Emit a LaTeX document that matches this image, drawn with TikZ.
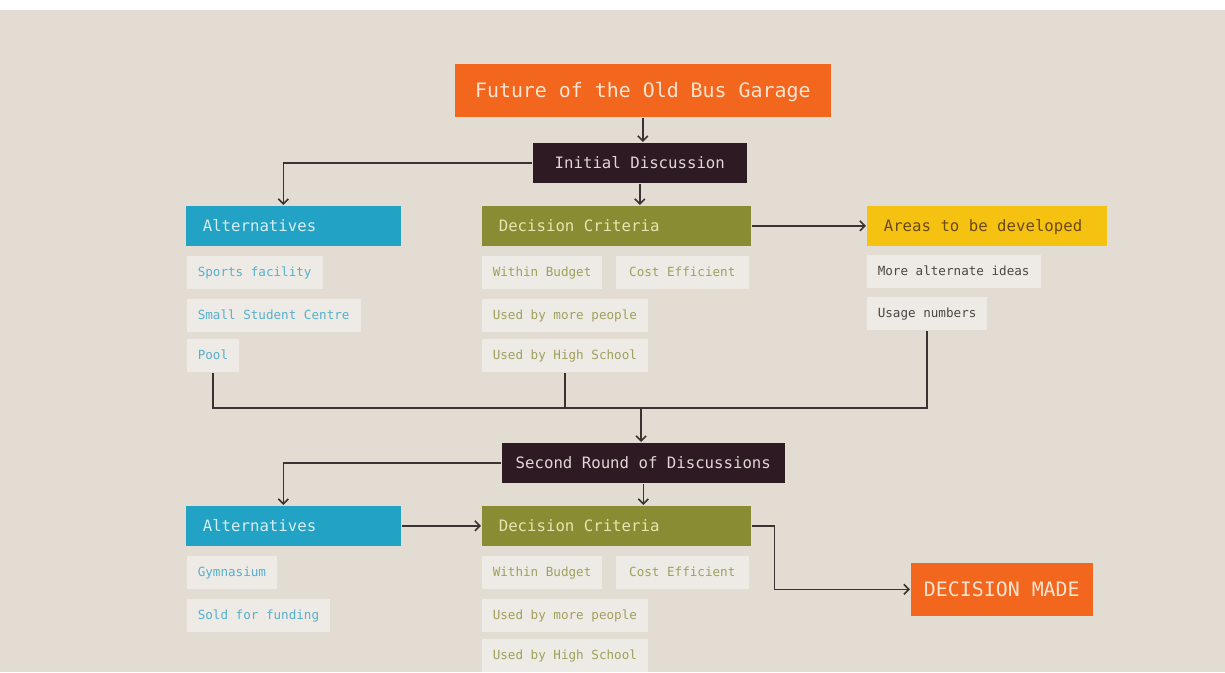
\documentclass[tikz,border=0pt]{standalone}
\usepackage{fontspec}
\setmonofont{DejaVu Sans Mono}
\usetikzlibrary{arrows.meta}

\definecolor{paper}{HTML}{E2DCD2}
\definecolor{orangec}{HTML}{F2661E}
\definecolor{orangetxt}{HTML}{FBE3CF}
\definecolor{darkc}{HTML}{2D1A22}
\definecolor{darktxt}{HTML}{E2D6D6}
\definecolor{bluec}{HTML}{22A2C5}
\definecolor{bluehd}{HTML}{D6EEF3}
\definecolor{bluetxt}{HTML}{55B0CC}
\definecolor{olivec}{HTML}{8A8C33}
\definecolor{olivehd}{HTML}{E6E4B0}
\definecolor{olivetxt}{HTML}{A19F5C}
\definecolor{yellowc}{HTML}{F5C212}
\definecolor{yellowtxt}{HTML}{6B4A12}
\definecolor{greytxt}{HTML}{4D4545}
\definecolor{itembg}{HTML}{EEEAE6}
\definecolor{linec}{HTML}{3B3333}

\begin{document}
\begin{tikzpicture}[x=1pt,y=-1pt,->,>={Straight Barb[length=5pt,width=10pt]},
  line width=1.6pt,
  head/.style={anchor=north west,inner xsep=17pt,minimum height=40pt,align=flush left,
    font=\ttfamily\fontsize{15.7}{18}\selectfont,text height=12.5pt,text depth=2pt},
  mainbox/.style={anchor=north west,inner sep=0pt,align=center,
    font=\ttfamily\fontsize{15.7}{18}\selectfont,text height=12.5pt,text depth=2pt},
  item/.style={anchor=north west,fill=itembg,inner xsep=11pt,minimum height=33pt,
    font=\ttfamily\fontsize{12.6}{15}\selectfont,text height=9.5pt,text depth=2pt},
  conn/.style={draw=linec}]

% background
\useasboundingbox (0,0) rectangle (1225,672);
\fill[white] (0,0) rectangle (1225,672);
\fill[paper] (0,10) rectangle (1225,672);

% first round
\node[mainbox,fill=orangec,text=orangetxt,minimum width=376pt,minimum height=53pt,
  font=\ttfamily\fontsize{19.9}{22}\selectfont,text height=16pt,text depth=2pt] (garage) at (454,63) {Future of the Old Bus Garage};
\node[mainbox,fill=darkc,text=darktxt,minimum width=214pt,minimum height=40pt] (initial) at (532,142) {Initial Discussion};

\node[head,fill=bluec,text=bluehd,text width=181pt] (altA) at (185,205) {Alternatives};
\node[head,fill=olivec,text=olivehd,text width=235pt] (critA) at (481,205) {Decision Criteria};
\node[head,fill=yellowc,text=yellowtxt,text width=206pt] (areas) at (866,205) {Areas to be developed};

\node[item,text=bluetxt] (sports) at (186,255) {Sports facility};
\node[item,text=bluetxt] (student) at (186,298) {Small Student Centre};
\node[item,text=bluetxt] (pool) at (186,338) {Pool};

\node[item,text=olivetxt] (budgetA) at (481,255) {Within Budget};
\node[item,text=olivetxt,minimum width=133pt] (costA) at (615,255) {Cost Efficient};
\node[item,text=olivetxt] (moreA) at (481,298) {Used by more people};
\node[item,text=olivetxt] (highA) at (481,338) {Used by High School};

\node[item,text=greytxt] (ideas) at (866,254) {More alternate ideas};
\node[item,text=greytxt] (usage) at (866,296) {Usage numbers};

% second round
\node[mainbox,fill=darkc,text=darktxt,minimum width=283pt,minimum height=40pt] (second) at (501,442) {Second Round of Discussions};

\node[head,fill=bluec,text=bluehd,text width=181pt] (altB) at (185,505) {Alternatives};
\node[head,fill=olivec,text=olivehd,text width=235pt] (critB) at (481,505) {Decision Criteria};

\node[item,text=bluetxt] (gym) at (186,555) {Gymnasium};
\node[item,text=bluetxt] (sold) at (186,598) {Sold for funding};

\node[item,text=olivetxt] (budgetB) at (481,555) {Within Budget};
\node[item,text=olivetxt,minimum width=133pt] (costB) at (615,555) {Cost Efficient};
\node[item,text=olivetxt] (moreB) at (481,598) {Used by more people};
\node[item,text=olivetxt] (highB) at (481,638) {Used by High School};

\node[mainbox,fill=orangec,text=orangetxt,minimum width=182pt,minimum height=53pt,
  font=\ttfamily\fontsize{19.9}{22}\selectfont,text height=16pt,text depth=2pt] (decision) at (910,562) {DECISION MADE};

\coordinate (merge) at (641,408);

% connectors
\draw[conn] (garage.south) -- (garage.south |- initial.north);
\draw[conn] (initial.west) -| ([xshift=-10pt]altA.north);
\draw[conn] (initial.south) -- (initial.south |- critA.north);
\draw[conn] (critA.east) -- (areas.west);

\draw[conn,-] (pool.south) |- (usage.south |- merge) -- (usage.south);
\draw[conn,-] (highA.south) -- (highA.south |- merge);
\draw[conn] (merge) -- (merge |- second.north);

\draw[conn] (second.west) -| ([xshift=-10pt]altB.north);
\draw[conn] (second.south) -- (second.south |- critB.north);
\draw[conn] (altB.east) -- (critB.west);
\draw[conn] (critB.east) -- ++(23,0) |- (decision.west);
\end{tikzpicture}
\end{document}
